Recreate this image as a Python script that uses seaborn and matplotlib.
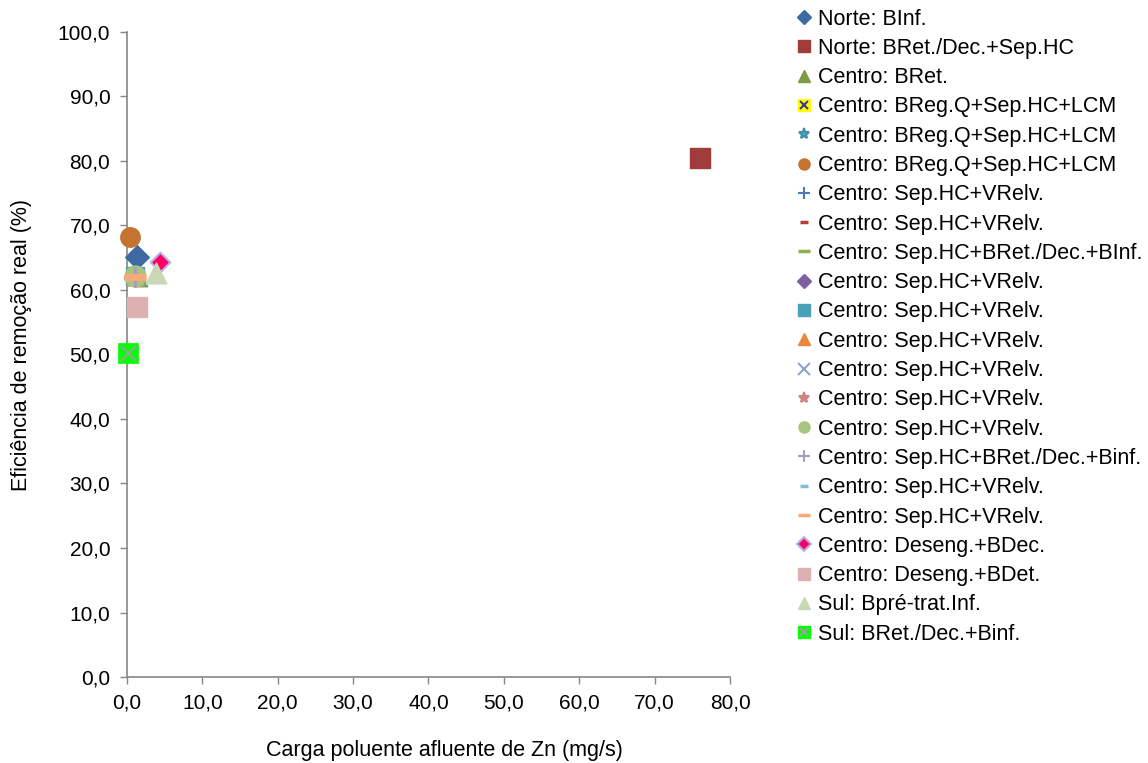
import matplotlib
matplotlib.use("Agg")
import matplotlib.pyplot as plt
import seaborn as sns
import pandas as pd
from matplotlib.lines import Line2D
from matplotlib.ticker import FuncFormatter, MultipleLocator

sns.set_theme(style="white")
plt.rcParams['font.family'] = ['Liberation Sans', 'DejaVu Sans']
plt.rcParams['text.color'] = 'black'

labels = [
    "Norte: BInf.", "Norte: BRet./Dec.+Sep.HC", "Centro: BRet.",
    "Centro: BReg.Q+Sep.HC+LCM", "Centro: BReg.Q+Sep.HC+LCM", "Centro: BReg.Q+Sep.HC+LCM",
    "Centro: Sep.HC+VRelv.", "Centro: Sep.HC+VRelv.", "Centro: Sep.HC+BRet./Dec.+BInf.",
    "Centro: Sep.HC+VRelv.", "Centro: Sep.HC+VRelv.", "Centro: Sep.HC+VRelv.",
    "Centro: Sep.HC+VRelv.", "Centro: Sep.HC+VRelv.", "Centro: Sep.HC+VRelv.",
    "Centro: Sep.HC+BRet./Dec.+Binf.", "Centro: Sep.HC+VRelv.", "Centro: Sep.HC+VRelv.",
    "Centro: Deseng.+BDec.", "Centro: Deseng.+BDet.", "Sul: Bpré-trat.Inf.",
    "Sul: BRet./Dec.+Binf.",
]
x_vals = [1.3, 76.0, 1.8, 0.9, 0.9, 0.4, 1.0, 1.0, 1.0, 1.0, 1.0, 1.0,
          1.0, 1.0, 1.0, 1.0, 1.0, 1.0, 4.4, 1.3, 3.9, 0.2]
y_vals = [65.1, 80.4, 61.6, 62.0, 62.0, 68.2, 62.0, 62.0, 61.8, 62.0, 62.2, 62.0,
          62.0, 62.0, 62.2, 62.0, 62.0, 62.0, 64.4, 57.3, 62.7, 50.2]

# style: marker, face colour, edge colour, size (pt), edge width
styles = [
    ("D", "#3D6AA1", "#3D6AA1", 12, 1),
    ("s", "#A03D3A", "#A03D3A", 14, 1),
    ("^", "#7F9A48", "#7F9A48", 9, 1),
    ("X2", "#FFFF00", "#3B3B8F", 10, 1.5),
    ("*", "#4BACC6", "#3E8FA5", 10, 1.5),
    ("o", "#C4742F", "#C4742F", 14, 1),
    ("+", "#4A7EBB", "#4A7EBB", 10, 1.5),
    ("_", "#B5413E", "#B5413E", 8, 3),
    ("_", "#8DB04F", "#8DB04F", 16, 3),
    ("D", "#7E5FA0", "#7E5FA0", 10, 1),
    ("s", "#47A1B8", "#47A1B8", 13, 1),
    ("^", "#E8883A", "#E8883A", 12, 1),
    ("x", "#8EA5CB", "#8EA5CB", 12, 1.5),
    ("*", "#D08482", "#D08482", 12, 1.5),
    ("o", "#A9C47F", "#A9C47F", 15, 1),
    ("+", "#A99BBD", "#A99BBD", 14, 2),
    ("_", "#7FC1D4", "#7FC1D4", 10, 3),
    ("_", "#F9A97A", "#F9A97A", 16, 5),
    ("D", "#FF0066", "#B4B4E6", 10, 1.5),
    ("s", "#DDB1B1", "#DDB1B1", 14, 1),
    ("^", "#C9D8B4", "#C9D8B4", 15, 1),
    ("X2", "#00FF00", "#A0A0A0", 14, 1.5),
]

fig = plt.figure(figsize=(11.48, 7.63), dpi=100)
ax = fig.add_axes([0.1106, 0.1127, 0.5253, 0.8454])

handles = []
for lab, xv, yv, st in zip(labels, x_vals, y_vals, styles):
    m, fc, ec, s, lw = st
    df = pd.DataFrame({"x": [xv], "y": [yv]})
    if m == "X2":
        sns.scatterplot(data=df, x="x", y="y", ax=ax, marker="s", s=s**2,
                        color=fc, edgecolor=fc, linewidth=0.5, zorder=3, clip_on=False)
        sns.scatterplot(data=df, x="x", y="y", ax=ax, marker="x", s=(s*0.8)**2,
                        color=ec, linewidth=lw, zorder=3, clip_on=False)
        h = (Line2D([], [], marker="s", color=fc, markeredgecolor=fc, linestyle="", markersize=8),
             Line2D([], [], marker="x", color=ec, markeredgewidth=1.5, linestyle="", markersize=6))
    elif m in ("+", "x", "_"):
        sns.scatterplot(data=df, x="x", y="y", ax=ax, marker=m, s=s**2,
                        color=fc, linewidth=lw, zorder=3, clip_on=False)
        h = Line2D([], [], marker=m, color=fc, markeredgewidth=2.5 if m == "_" else 1.5,
                   linestyle="", markersize=9 if m != "_" else (6 if s < 12 else 9))
    else:
        sns.scatterplot(data=df, x="x", y="y", ax=ax, marker=m, s=s**2,
                        color=fc, edgecolor=ec, linewidth=lw, zorder=3, clip_on=False)
        h = Line2D([], [], marker=m, color=fc, markeredgecolor=ec, markeredgewidth=lw,
                   linestyle="", markersize=8 if m != "D" else 7)
    handles.append(h)

ax.set_xlim(0, 80)
ax.set_ylim(0, 100)
ax.xaxis.set_major_locator(MultipleLocator(10))
ax.yaxis.set_major_locator(MultipleLocator(10))
fmt = FuncFormatter(lambda v, p: f"{v:.1f}".replace(".", ","))
ax.xaxis.set_major_formatter(fmt)
ax.yaxis.set_major_formatter(fmt)
for sp in ["top", "right"]:
    ax.spines[sp].set_visible(False)
for sp in ["left", "bottom"]:
    ax.spines[sp].set_color("#868686")
    ax.spines[sp].set_linewidth(1.2)
ax.tick_params(axis="both", direction="out", length=5, width=1, color="#868686",
               labelsize=15, labelcolor="black", left=True, bottom=True, pad=7)
ax.set_xlabel("Carga poluente afluente de Zn (mg/s)", fontsize=15.5, color="black")
ax.set_ylabel("Eficiência de remoção real (%)", fontsize=15.5, color="black")
ax.xaxis.set_label_coords(0.526, -0.098)
ax.yaxis.set_label_coords(-0.158, 0.515)
if ax.get_legend():
    ax.get_legend().remove()

fig.legend(handles, labels, loc="upper left", bbox_to_anchor=(0.6855, 1.0),
           frameon=False, fontsize=15.5, labelspacing=0.385, handlelength=0.8,
           handletextpad=0.25, borderaxespad=0, labelcolor="black")

fig.savefig("out.png", dpi=100, facecolor="white")
